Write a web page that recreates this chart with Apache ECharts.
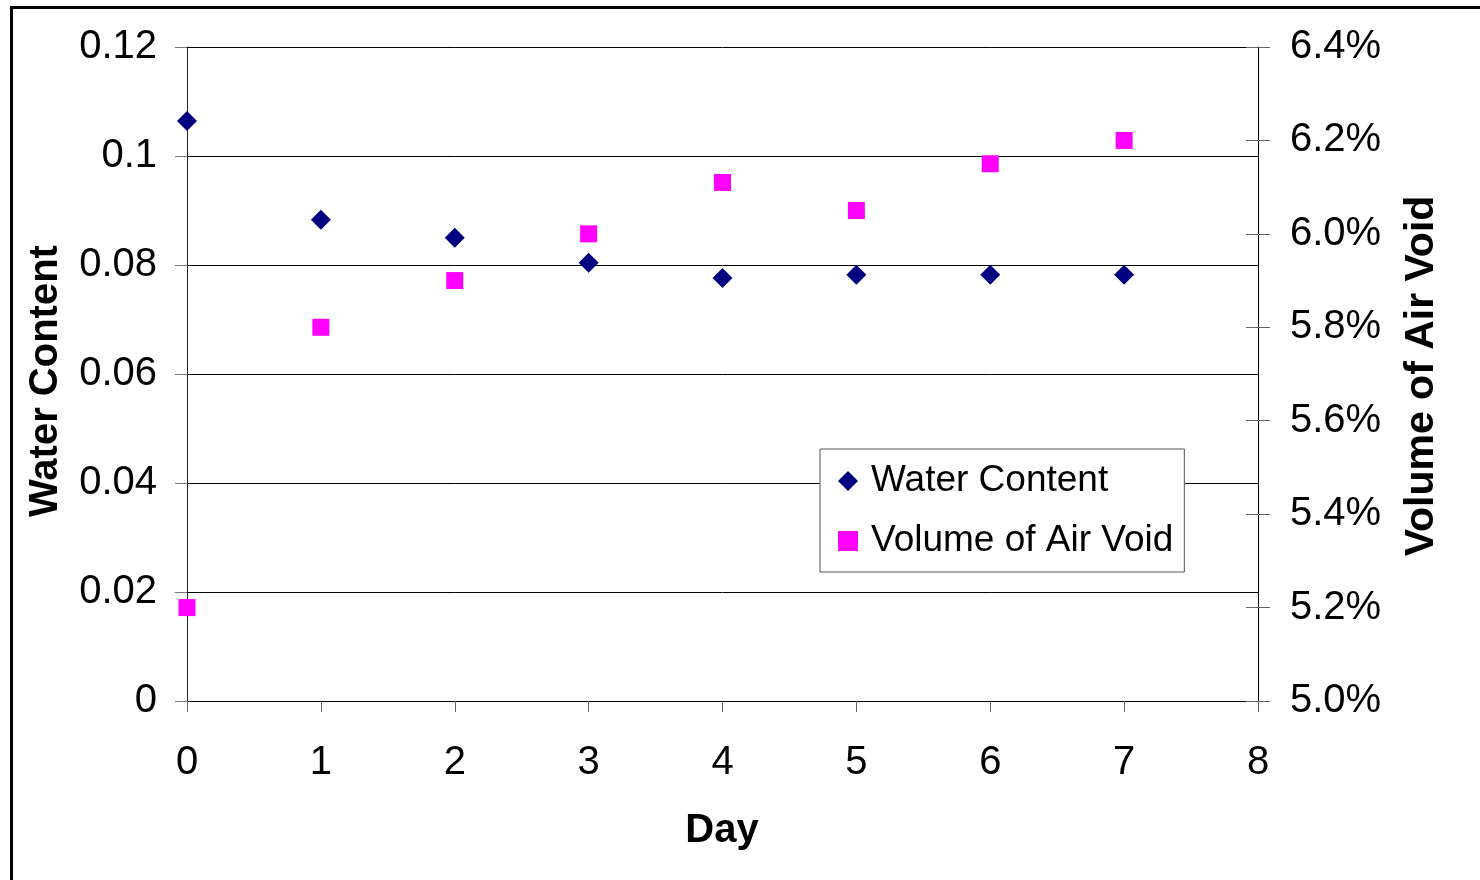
<!DOCTYPE html>
<html>
<head>
<meta charset="utf-8">
<script src="https://cdn.jsdelivr.net/npm/echarts@6/dist/echarts.min.js"></script>
<style>
  html, body { margin: 0; padding: 0; background: #fff; }
  #chart { width: 1480px; height: 880px; }
</style>
</head>
<body>
<div id="chart"></div>
<script>
// Days of measurement
const days = [0, 1, 2, 3, 4, 5, 6, 7];
// Water content (fraction)
const waterContent = [0.1064, 0.0883, 0.0850, 0.0804, 0.0776, 0.0782, 0.0782, 0.0782];
// Volume of air void (percent)
const airVoid = [5.20, 5.80, 5.90, 6.00, 6.11, 6.05, 6.15, 6.20];

const FONT = '"Liberation Sans", Arial, Helvetica, sans-serif';

const chart = echarts.init(document.getElementById('chart'), null, { renderer: 'canvas' });

const waterData = days.map((d, i) => [d, waterContent[i]]);
const voidData = days.map((d, i) => [d, airVoid[i]]);

chart.setOption({
  backgroundColor: '#ffffff',
  animation: false,
  textStyle: { fontFamily: FONT, color: '#000' },
  graphic: [
    {
      type: 'rect',
      shape: { x: 11.5, y: 7.5, width: 1500, height: 900 },
      style: { fill: 'none', stroke: '#000', lineWidth: 3 },
      silent: true
    },
    {
      type: 'text',
      x: 722, y: 831,
      style: { text: 'Day', font: 'bold 40px ' + FONT, fill: '#000', align: 'center', verticalAlign: 'middle' }
    },
    {
      type: 'text',
      x: 46, y: 381, rotation: Math.PI / 2,
      style: { text: 'Water Content', font: 'bold 40px ' + FONT, fill: '#000', align: 'center', verticalAlign: 'middle' }
    },
    {
      type: 'text',
      x: 1422, y: 376, rotation: Math.PI / 2,
      style: { text: 'Volume of Air Void', font: 'bold 41px ' + FONT, fill: '#000', align: 'center', verticalAlign: 'middle' }
    }
  ],
  grid: { left: 187, right: 222, top: 47, bottom: 179, containLabel: false },
  legend: {
    orient: 'vertical',
    left: 820,
    top: 449,
    padding: [10, 11, 9, 18],
    itemGap: 16,
    itemWidth: 20,
    itemHeight: 20,
    backgroundColor: '#fff',
    borderColor: '#555',
    borderWidth: 1,
    textStyle: { fontSize: 37, fontFamily: FONT, color: '#000', lineHeight: 44, padding: [0, 0, 0, 8] },
    data: [
      { name: 'Water Content', icon: 'diamond' },
      { name: 'Volume of Air Void', icon: 'path://M0,0L17,0L17,17L0,17Z' }
    ]
  },
  xAxis: {
    type: 'value',
    min: 0, max: 8, interval: 1,
    axisLine: { onZero: false, lineStyle: { color: '#000', width: 1 } },
    axisTick: { show: true, inside: false, length: 11, lineStyle: { color: '#666', width: 1 } },
    axisLabel: { fontSize: 40, fontFamily: FONT, color: '#000', margin: 42 },
    splitLine: { show: false }
  },
  yAxis: [
    {
      type: 'value',
      position: 'left',
      min: 0, max: 0.12, interval: 0.02,
      axisLine: { show: true, lineStyle: { color: '#222', width: 1 } },
      axisTick: { show: true, inside: false, length: 12, lineStyle: { color: '#777', width: 1 } },
      axisLabel: {
        fontSize: 40, fontFamily: FONT, color: '#000', margin: 30, padding: [4, 0, 0, 0],
        formatter: v => String(Math.round(v * 100) / 100)
      },
      splitLine: { show: true, lineStyle: { color: '#000', width: 1 } }
    },
    {
      type: 'value',
      position: 'right',
      min: 5.0, max: 6.4, interval: 0.2,
      axisLine: { show: true, lineStyle: { color: '#000', width: 1 } },
      axisTick: { show: true, inside: false, length: 12, lineStyle: { color: '#666', width: 1 } },
      axisLabel: {
        fontSize: 40, fontFamily: FONT, color: '#000', margin: 32, padding: [4, 0, 0, 0],
        formatter: v => v.toFixed(1) + '%'
      },
      splitLine: { show: false }
    },
    {
      // inner half of the crossing ticks on the right axis
      type: 'value',
      position: 'right',
      min: 5.0, max: 6.4, interval: 0.2,
      axisLine: { show: false },
      axisTick: { show: true, inside: true, length: 12, lineStyle: { color: '#666', width: 1 } },
      axisLabel: { show: false },
      splitLine: { show: false }
    }
  ],
  series: [
    {
      name: 'Water Content',
      type: 'scatter',
      yAxisIndex: 0,
      symbol: 'diamond',
      symbolSize: 20,
      itemStyle: { color: '#000080', opacity: 1 },
      data: waterData,
      z: 3
    },
    {
      name: 'Volume of Air Void',
      type: 'scatter',
      yAxisIndex: 1,
      symbol: 'rect',
      symbolSize: 17,
      itemStyle: { color: '#ff00ff', opacity: 1 },
      data: voidData,
      z: 3
    }
  ]
});
</script>
</body>
</html>
